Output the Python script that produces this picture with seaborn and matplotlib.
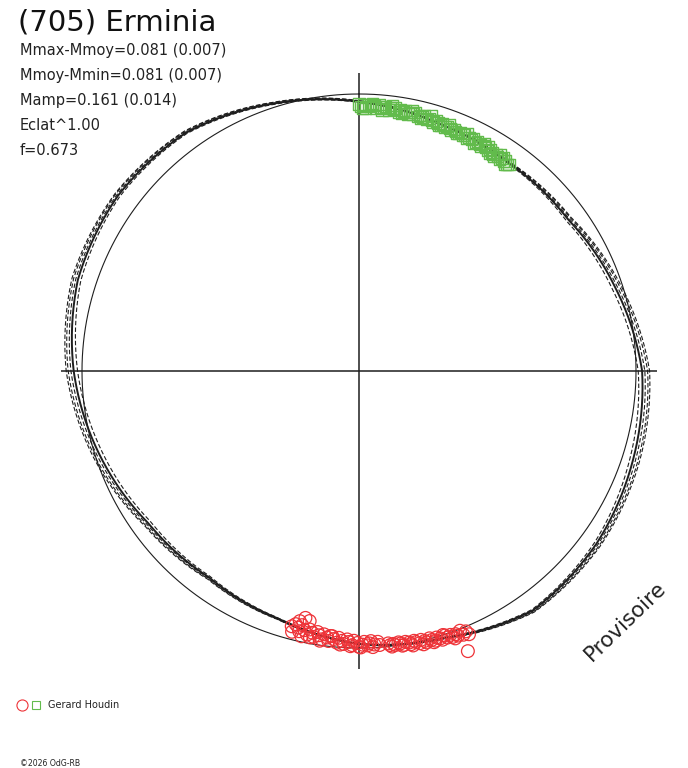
import numpy as np
import pandas as pd
import matplotlib
matplotlib.use("Agg")
import matplotlib.pyplot as plt
from matplotlib.lines import Line2D
import seaborn as sns

# ---------------- text ----------------
title = "(705) Erminia"
stats_lines = ["Mmax-Mmoy=0.081 (0.007)", "Mmoy-Mmin=0.081 (0.007)",
               "Mamp=0.161 (0.014)", "Eclat^1.00", "f=0.673"]
observer = "Gerard Houdin"
credit = "\u00a92026 OdG-RB"
watermark = "Provisoire"

# ---------------- model (phase, Mmoy-M in mag) ----------------
model_phase = [0.00, 0.05, 0.10, 0.15, 0.20, 0.25, 0.30, 0.35, 0.40, 0.45,
               0.50, 0.55, 0.60, 0.65, 0.70, 0.75, 0.80, 0.85, 0.90, 0.95]
model_dr = [-0.028, -0.062, -0.075, -0.068, -0.027, 0.022, 0.040, 0.060, 0.068, 0.012,
            -0.015, -0.060, -0.079, -0.062, -0.016, 0.030, 0.067, 0.076, 0.063, 0.014]
# alternative solutions (dashed), deviation from the main model
alt_dev_a = [0.003, 0.002, 0.004, 0.010, 0.016, 0.020, 0.018, 0.012, 0.006, 0.002,
             0.001, 0.003, 0.006, 0.012, 0.018, 0.020, 0.016, 0.010, 0.006, 0.004]
alt_dev_b = [-0.002, -0.001, -0.003, -0.008, -0.012, -0.014, -0.012, -0.008, -0.004, -0.002,
             -0.001, -0.002, -0.005, -0.010, -0.013, -0.014, -0.011, -0.007, -0.004, -0.003]
alt_dev_c = [0.001, 0.001, 0.002, 0.005, 0.008, 0.010, 0.009, 0.006, 0.003, 0.001,
             0.000, 0.001, 0.003, 0.006, 0.009, 0.010, 0.008, 0.005, 0.003, 0.002]
alt_dev_d = [0.004, 0.003, 0.005, 0.013, 0.022, 0.027, 0.024, 0.016, 0.008, 0.003,
             0.002, 0.004, 0.008, 0.016, 0.024, 0.027, 0.022, 0.013, 0.008, 0.005]

# ---------------- observations ----------------
green_phase = [0.000, 0.001, 0.003, 0.004, 0.006, 0.007, 0.009, 0.010, 0.012, 0.013,
               0.015, 0.016, 0.018, 0.019, 0.021, 0.022, 0.024, 0.025, 0.027, 0.028,
               0.030, 0.031, 0.033, 0.034, 0.036, 0.037, 0.039, 0.040, 0.042, 0.043,
               0.045, 0.046, 0.048, 0.049, 0.051, 0.052, 0.054, 0.055, 0.057, 0.058,
               0.060, 0.061, 0.063, 0.064, 0.066, 0.067, 0.069, 0.070, 0.072, 0.073,
               0.075, 0.076, 0.078, 0.079, 0.081, 0.082, 0.084, 0.085, 0.087, 0.088,
               0.090, 0.091, 0.093, 0.094, 0.096, 0.097, 0.099, 0.100,
               0.002, 0.008, 0.014, 0.020, 0.026, 0.032, 0.038, 0.044, 0.050, 0.056,
               0.062, 0.068, 0.074, 0.080, 0.086, 0.092, 0.098, 0.095, 0.089, 0.083]
green_dr = [-0.036, -0.046, -0.040, -0.050, -0.038, -0.045, -0.041, -0.049, -0.036, -0.044,
            -0.047, -0.040, -0.052, -0.043, -0.048, -0.041, -0.054, -0.046, -0.050, -0.044,
            -0.055, -0.048, -0.052, -0.046, -0.058, -0.051, -0.055, -0.049, -0.060, -0.053,
            -0.057, -0.062, -0.055, -0.060, -0.064, -0.058, -0.066, -0.061, -0.064, -0.069,
            -0.062, -0.067, -0.071, -0.064, -0.069, -0.066, -0.073, -0.067, -0.071, -0.065,
            -0.074, -0.068, -0.072, -0.077, -0.069, -0.074, -0.078, -0.071, -0.076, -0.081,
            -0.073, -0.078, -0.082, -0.075, -0.080, -0.076, -0.083, -0.078,
            -0.052, -0.032, -0.054, -0.035, -0.058, -0.040, -0.061, -0.043, -0.068, -0.054,
            -0.074, -0.058, -0.079, -0.062, -0.084, -0.068, -0.088, -0.070, -0.086, -0.066]

red_phase = [0.437, 0.438, 0.440, 0.441, 0.441, 0.443, 0.444, 0.446, 0.447, 0.449,
             0.450, 0.452, 0.453, 0.455, 0.456, 0.458, 0.459, 0.461, 0.462, 0.464,
             0.465, 0.467, 0.468, 0.470, 0.471, 0.473, 0.474, 0.476, 0.477, 0.479,
             0.480, 0.482, 0.483, 0.445, 0.451, 0.457, 0.463, 0.469, 0.475, 0.481,
             0.488, 0.489, 0.491, 0.492, 0.494, 0.495, 0.497, 0.498, 0.500, 0.501,
             0.503, 0.504, 0.506, 0.507, 0.509, 0.510, 0.512, 0.513, 0.515, 0.516,
             0.518, 0.519, 0.521, 0.522, 0.524, 0.525, 0.527, 0.528, 0.530, 0.531,
             0.531, 0.533, 0.534, 0.534, 0.536, 0.537, 0.537, 0.539, 0.540, 0.541,
             0.493, 0.499, 0.505, 0.511, 0.517, 0.523, 0.529, 0.535]
red_dr = [0.030, 0.016, 0.024, 0.006, 0.085, 0.020, 0.012, 0.018, 0.008, 0.014,
          0.004, 0.016, 0.009, 0.002, 0.012, 0.006, -0.002, 0.010, 0.003, -0.004,
          0.007, 0.000, -0.006, 0.004, -0.003, -0.008, 0.002, -0.005, -0.010, -0.002,
          -0.007, -0.004, -0.011, 0.026, 0.000, 0.016, 0.014, 0.010, 0.004, 0.002,
          -0.008, -0.020, -0.011, -0.002, -0.016, -0.009, -0.022, -0.012, -0.004, -0.018,
          -0.026, -0.010, -0.021, -0.030, -0.013, -0.024, -0.034, -0.016, -0.028, -0.038,
          -0.019, -0.031, -0.041, -0.022, -0.035, -0.046, -0.026, -0.040, -0.050, -0.030,
          -0.080, -0.044, -0.088, -0.020, -0.036, -0.072, -0.048, -0.058, -0.028, -0.047,
          -0.024, -0.002, -0.006, -0.010, -0.038, -0.016, -0.022, -0.060]

# ---------------- styling ----------------
sns.set_style("white")
plt.rcParams['font.family'] = ['DejaVu Sans']

W, H = 688, 768
fig = plt.figure(figsize=(W / 100, H / 100), dpi=100)
fig.patch.set_facecolor("white")

cx, cy, R = 359, 371, 277       # centre and unit radius in pixels
rmax = 1.15
half = R * rmax
ax = fig.add_axes([(cx - half) / W, (H - cy - half) / H, 2 * half / W, 2 * half / H],
                  projection="polar")
ax.set_theta_zero_location("N")
ax.set_theta_direction(-1)

ink = "#1e1e1e"
green = "#62bb4c"
red = "#ee3338"

# cross hairs
cross_len = 1.077
for ang in [0, np.pi / 2, np.pi, 3 * np.pi / 2]:
    ax.plot([ang, ang], [0, cross_len], color=ink, lw=1.1, solid_capstyle="butt")

# reference circle (mean magnitude)
circ_t = np.linspace(0, 2 * np.pi, 721)
ax.plot(circ_t, np.ones_like(circ_t), color=ink, lw=0.8)

# model curves
ph_closed = np.array(model_phase + [1.0])
main_closed = np.array(model_dr + [model_dr[0]])
theta_closed = 2 * np.pi * ph_closed

n_before = len(ax.lines)
for dev in [alt_dev_a, alt_dev_b, alt_dev_c, alt_dev_d]:
    dev_closed = np.array(dev + [dev[0]])
    df_alt = pd.DataFrame({"theta": theta_closed, "r": 1 + main_closed + dev_closed})
    sns.lineplot(data=df_alt, x="theta", y="r", ax=ax, sort=False, estimator=None,
                 color=ink, lw=0.8, linestyle=(0, (4, 2)))

df_main = pd.DataFrame({"theta": theta_closed, "r": 1 + main_closed})
sns.lineplot(data=df_main, x="theta", y="r", ax=ax, sort=False, estimator=None,
             color=ink, lw=1.4)

# let the polar projection draw each segment as a curve in (theta, r)
for ln in ax.lines[n_before:]:
    ln.get_path()._interpolation_steps = 40

# observations
df_g = pd.DataFrame({"theta": 2 * np.pi * np.array(green_phase), "r": 1 + np.array(green_dr)})
df_r = pd.DataFrame({"theta": 2 * np.pi * np.array(red_phase), "r": 1 + np.array(red_dr)})
sns.scatterplot(data=df_g, x="theta", y="r", ax=ax, marker="s", s=66,
                facecolors="none", edgecolor=green, linewidth=1.0, zorder=5)
sns.scatterplot(data=df_r, x="theta", y="r", ax=ax, marker="o", s=84,
                facecolors="none", edgecolor=red, linewidth=0.9, zorder=5)

ax.set_ylim(0, rmax)
ax.set_axis_off()

# ---------------- texts ----------------
def fx(px):
    return px / W

def fy(py):
    return 1 - py / H

fig.text(fx(18), fy(22), title, fontsize=21, color="#111111", va="center", ha="left")
for i, line in enumerate(stats_lines):
    fig.text(fx(20), fy(50 + 25.2 * i), line, fontsize=10.5, color="#222222",
             va="center", ha="left")

fig.text(fx(625), fy(621), watermark, fontsize=15.5, color="#222222", rotation=44,
         rotation_mode="anchor", va="center", ha="center")

fig.add_artist(Line2D([fx(22)], [fy(705)], transform=fig.transFigure, marker="o",
                      markersize=8, markerfacecolor="none", markeredgecolor=red,
                      markeredgewidth=0.8, linestyle="none"))
fig.add_artist(Line2D([fx(36)], [fy(705)], transform=fig.transFigure, marker="s",
                      markersize=5.8, markerfacecolor="none", markeredgecolor=green,
                      markeredgewidth=0.8, linestyle="none"))
fig.text(fx(48), fy(705), observer, fontsize=7, color="#222222", va="center", ha="left")
fig.text(fx(20), fy(763), credit, fontsize=5.6, color="#222222", va="center", ha="left")

fig.savefig("out.png", dpi=100, facecolor="white")
